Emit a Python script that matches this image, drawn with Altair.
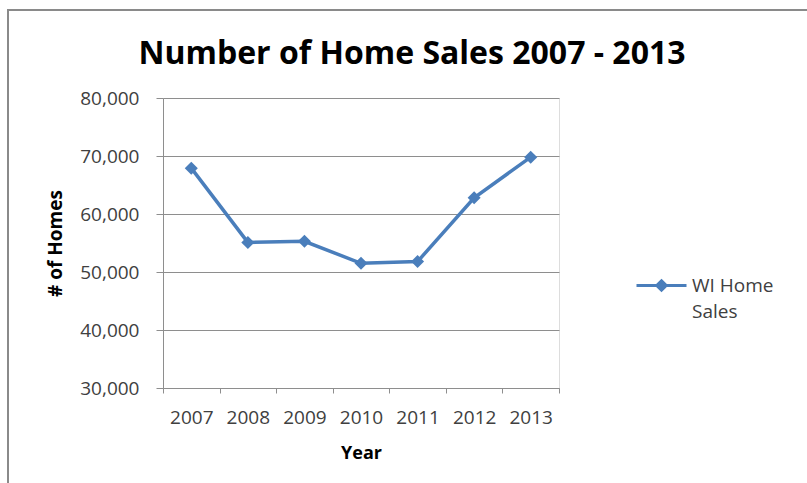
import altair as alt
import pandas as pd

# ---- data ----
years = ["2007", "2008", "2009", "2010", "2011", "2012", "2013"]
home_sales = [67900, 55100, 55300, 51500, 51800, 62800, 69800]
series_name = "WI Home Sales"
y_ticks = [30000, 40000, 50000, 60000, 70000, 80000]

df = pd.DataFrame({"Year": years, "Sales": home_sales,
                   "Series": [series_name] * len(years)})

FONT = "Open Sans"
BLUE = "#4A7EBB"
GRID = "#8e8e8e"
LABEL = "#404040"

x_enc = alt.X(
    "Year:O", title="Year",
    scale=alt.Scale(type="band", paddingInner=0, paddingOuter=0),
    axis=alt.Axis(labelAngle=0, tickBand="extent", tickSize=5, labelPadding=15,
                  labelFont=FONT, labelFontSize=19, labelColor=LABEL,
                  titleFont=FONT, titleFontSize=18, titleFontWeight="bold",
                  titleColor="#000000", titlePadding=17,
                  domainColor=GRID, tickColor=GRID, grid=False),
)
y_enc = alt.Y(
    "Sales:Q", title="# of Homes",
    scale=alt.Scale(domain=[30000, 80000], nice=False, zero=False),
    axis=alt.Axis(values=y_ticks, format=",d", tickSize=7, labelPadding=17,
                  labelFont=FONT, labelFontSize=19, labelColor=LABEL,
                  titleFont=FONT, titleFontSize=19, titleFontWeight="bold",
                  titleColor="#000000", titlePadding=14,
                  domainColor=GRID, tickColor=GRID, grid=True, gridColor=GRID,
                  gridWidth=1),
)

legend = alt.Legend(
    title=None, orient="none", legendX=472, legendY=161, padding=0,
    symbolType="M-1,0L1,0M0,-0.19L0.19,0L0,0.19L-0.19,0Z",
    symbolSize=2500, symbolStrokeWidth=3, symbolFillColor=BLUE,
    symbolStrokeColor=BLUE, labelOffset=4,
    labelFont=FONT, labelFontSize=19, labelColor=LABEL, labelLimit=200,
    labelExpr="['WI Home', 'Sales']",
)

line = alt.Chart(df).mark_line(strokeWidth=3.5).encode(
    x=x_enc, y=y_enc,
    color=alt.Color("Series:N", scale=alt.Scale(range=[BLUE]), legend=legend),
)
points = alt.Chart(df).mark_point(shape="diamond", filled=True, size=170,
                                  color=BLUE, opacity=1).encode(x=x_enc, y=y_enc)

frame = alt.Chart(pd.DataFrame({"f": [0]})).mark_rect(
    fill="transparent", stroke="#8a8a8a", strokeWidth=2
).encode(x=alt.value(-155), x2=alt.value(700), y=alt.value(-88), y2=alt.value(420))

chart = alt.layer(frame, line, points).properties(
    width=396, height=290,
    title=alt.TitleParams(
        "Number of Home Sales 2007 - 2013", font=FONT, fontSize=32,
        fontWeight="bold", color="#000000", anchor="middle", frame="group",
        baseline="alphabetic", dx=51, offset=0, dy=87),
    autosize=alt.AutoSizeParams(type="none"),
    padding={"left": 163, "top": 98, "right": 248, "bottom": 95},
).configure_view(stroke=None).configure(
    background="white",
    style={"guide-label": {"lineHeight": 26}},
)

chart.save("out.html", embed_options={"renderer": "svg", "actions": False})
